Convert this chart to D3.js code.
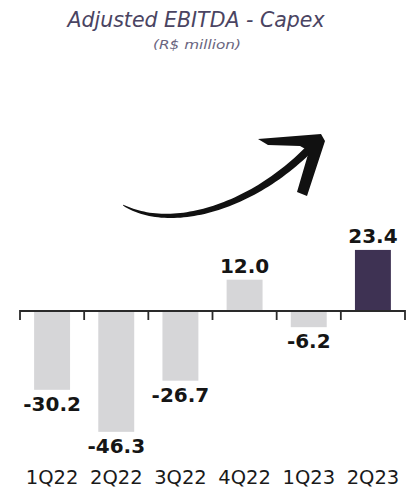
<!DOCTYPE html>
<html>
<head>
<meta charset="utf-8">
<script src="https://cdn.jsdelivr.net/npm/d3@7"></script>
<style>
  html, body { margin: 0; padding: 0; background: #fff; }
  svg { display: block; }
</style>
</head>
<body>
<svg id="chart" width="417" height="492"></svg>
<script>
// ---- data ----
const categories = ["1Q22", "2Q22", "3Q22", "4Q22", "1Q23", "2Q23"];
const values = [-30.2, -46.3, -26.7, 12.0, -6.2, 23.4];
const valueLabels = ["-30.2", "-46.3", "-26.7", "12.0", "-6.2", "23.4"];
const highlight = ["2Q23"];
const titleText = "Adjusted EBITDA - Capex";
const subtitleText = "(R$ million)";

const W = 417, H = 492;
const svg = d3.select("#chart");

const x = d3.scaleBand()
  .domain(categories)
  .range([20, 405])
  .paddingInner(0.44)
  .paddingOuter(0.22);

const y = d3.scaleLinear()
  .domain([-50, 30])
  .range([441.5, 232.7]);

const y0 = y(0);

// title
svg.append("text")
  .attr("x", 196).attr("y", 27)
  .attr("text-anchor", "middle")
  .attr("font-family", "DejaVu Sans, Verdana, sans-serif")
  .attr("font-style", "italic")
  .attr("font-size", 20.5)
  .attr("fill", "#4a4462")
  .text(titleText);

svg.append("text")
  .attr("x", 197).attr("y", 49)
  .attr("text-anchor", "middle")
  .attr("font-family", "DejaVu Sans, Verdana, sans-serif")
  .attr("font-style", "italic")
  .attr("font-size", 13)
  .attr("textLength", 88)
  .attr("lengthAdjust", "spacingAndGlyphs")
  .attr("fill", "#6a6580")
  .text(subtitleText);

// bars
svg.append("g").selectAll("rect")
  .data(categories)
  .join("rect")
  .attr("x", (d) => x(d))
  .attr("width", x.bandwidth())
  .attr("y", (d, i) => Math.min(y(values[i]), y0))
  .attr("height", (d, i) => Math.abs(y(values[i]) - y0))
  .attr("fill", (d) => highlight.includes(d) ? "#3e3253" : "#d6d6d8");

// axis line with ticks at band boundaries
const step = x.step();
const start = x.range()[0];
const bounds = d3.range(categories.length + 1).map((i) => start + i * step);
const axisG = svg.append("g").attr("transform", `translate(0,${y0})`);
axisG.append("path")
  .attr("d", `M${bounds[0]},9V0H${bounds[bounds.length - 1]}V9`)
  .attr("fill", "none")
  .attr("stroke", "#2a2a2a")
  .attr("stroke-width", 1.8);
axisG.selectAll("line.tick")
  .data(bounds.slice(1, -1))
  .join("line")
  .attr("class", "tick")
  .attr("x1", (d) => d).attr("x2", (d) => d)
  .attr("y1", 0).attr("y2", 9)
  .attr("stroke", "#2a2a2a")
  .attr("stroke-width", 1.8);

// category labels via band axis
const labAxis = svg.append("g")
  .attr("transform", `translate(0,${y0})`)
  .call(d3.axisBottom(x).tickSize(0).tickPadding(0));
labAxis.select(".domain").remove();
labAxis.selectAll("text")
  .attr("y", 484 - y0)
  .attr("dy", 0)
  .attr("font-family", "DejaVu Sans, Verdana, sans-serif")
  .attr("font-size", 19.5)
  .attr("fill", "#1a1a1a");

// value labels
svg.append("g").selectAll("text")
  .data(categories)
  .join("text")
  .attr("x", (d) => x(d) + x.bandwidth() / 2)
  .attr("y", (d, i) => values[i] >= 0 ? y(values[i]) - 7 : y(values[i]) + 21)
  .attr("text-anchor", "middle")
  .attr("font-family", "DejaVu Sans, Verdana, sans-serif")
  .attr("font-weight", "bold")
  .attr("font-size", 20)
  .attr("fill", "#151515")
  .text((d, i) => valueLabels[i]);

// decorative brush arrow
const P = [[123, 205], [170, 232], [255, 208], [316, 142]];
function bez(t) {
  const u = 1 - t;
  const a = u * u * u, b = 3 * u * u * t, c = 3 * u * t * t, e = t * t * t;
  return [a * P[0][0] + b * P[1][0] + c * P[2][0] + e * P[3][0],
          a * P[0][1] + b * P[1][1] + c * P[2][1] + e * P[3][1]];
}
function der(t) {
  const u = 1 - t;
  return [3 * u * u * (P[1][0] - P[0][0]) + 6 * u * t * (P[2][0] - P[1][0]) + 3 * t * t * (P[3][0] - P[2][0]),
          3 * u * u * (P[1][1] - P[0][1]) + 6 * u * t * (P[2][1] - P[1][1]) + 3 * t * t * (P[3][1] - P[2][1])];
}
const N = 60;
const left = [], right = [];
for (let i = 0; i <= N; i++) {
  const t = i / N;
  const p = bez(t), d = der(t);
  const len = Math.hypot(d[0], d[1]);
  const nx = -d[1] / len, ny = d[0] / len;
  const w = (0.6 + 7.4 * Math.pow(t, 0.55)) / 2;
  left.push([p[0] + nx * w, p[1] + ny * w]);
  right.push([p[0] - nx * w, p[1] - ny * w]);
}
const outline = left.concat(right.reverse());
svg.append("path")
  .attr("d", d3.line()(outline) + "Z")
  .attr("fill", "#111");
const head = [[258, 139], [321, 134], [325, 141], [307, 196], [297, 192], [309, 151], [300, 146], [268, 145]];
svg.append("path")
  .attr("d", d3.line()(head) + "Z")
  .attr("fill", "#111");
</script>
</body>
</html>
